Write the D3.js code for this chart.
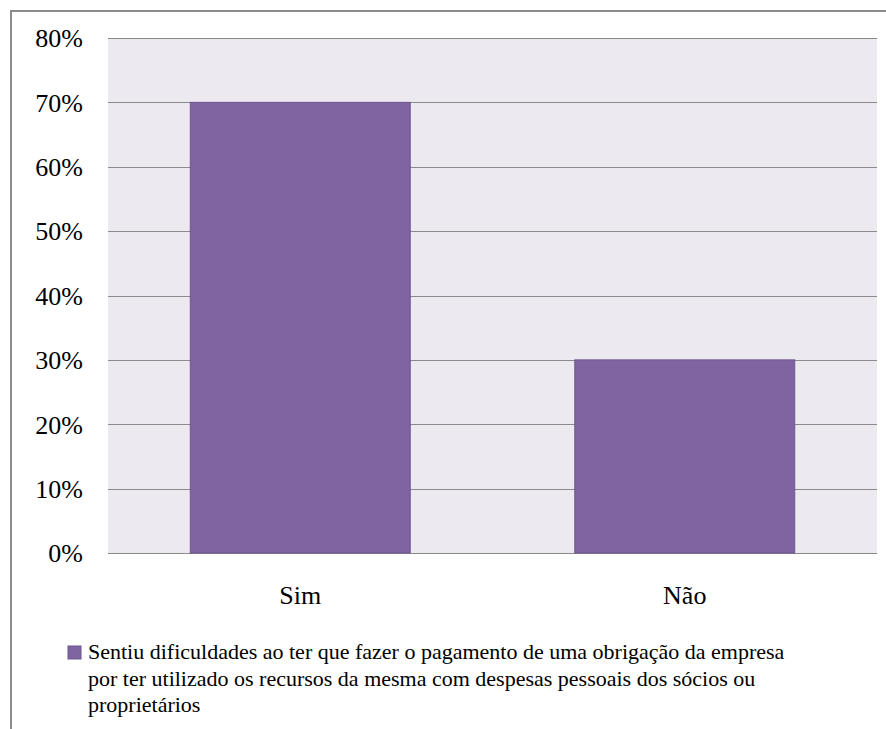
<!DOCTYPE html>
<html>
<head>
<meta charset="utf-8">
<script src="https://cdn.jsdelivr.net/npm/d3@7/dist/d3.min.js"></script>
<style>
  html, body { margin: 0; padding: 0; background: #fff; }
  svg { display: block; }
</style>
</head>
<body>
<svg id="chart" width="886" height="729"></svg>
<script>
// Responses
const categories = ["Sim", "Não"];
const values = [0.70, 0.30];
const yTicks = [0, 0.1, 0.2, 0.3, 0.4, 0.5, 0.6, 0.7, 0.8];
const legendLines = [
  "Sentiu dificuldades ao ter que fazer o pagamento de uma obrigação da empresa",
  "por ter utilizado os recursos da mesma com despesas pessoais dos sócios ou",
  "proprietários"
];

const SERIF = "'Liberation Serif', 'Times New Roman', serif";
const svg = d3.select("#chart");
const plot = { left: 108, right: 877, top: 38, bottom: 553 };

// outer frame (left and top edges visible)
svg.append("path")
  .attr("d", "M11,729 L11,11 L886,11")
  .attr("fill", "none")
  .attr("stroke", "#8c8c8c")
  .attr("stroke-width", 2);

const x = d3.scaleBand()
  .domain(categories)
  .range([plot.left, plot.right])
  .paddingInner(0.428)
  .paddingOuter(0.214);

const y = d3.scaleLinear()
  .domain([0, 0.8])
  .range([plot.bottom, plot.top]);

// plot background
svg.append("rect")
  .attr("x", plot.left).attr("y", plot.top)
  .attr("width", plot.right - plot.left)
  .attr("height", plot.bottom - plot.top)
  .attr("fill", "#ECEAF0");

// horizontal gridlines
const grid = svg.append("g")
  .attr("transform", `translate(${plot.left},0)`)
  .call(d3.axisLeft(y).tickValues(yTicks).tickSize(-(plot.right - plot.left)).tickFormat(""));
grid.select(".domain").remove();
grid.selectAll(".tick line")
  .attr("stroke", "#8a8a8a")
  .attr("stroke-width", 1)
  .attr("shape-rendering", "crispEdges");

// bars
svg.append("g").selectAll("rect")
  .data(categories.map((c, i) => ({ c, v: values[i] })))
  .join("rect")
  .attr("x", d => x(d.c))
  .attr("y", d => y(d.v))
  .attr("width", x.bandwidth())
  .attr("height", d => y(0) - y(d.v))
  .attr("fill", "#8064A2")
  .attr("stroke", "#6E5591")
  .attr("stroke-width", 1);

// y axis labels
const yAxis = svg.append("g")
  .attr("transform", `translate(83,0)`)
  .call(d3.axisLeft(y).tickValues(yTicks).tickSize(0).tickPadding(0).tickFormat(d3.format(".0%")));
yAxis.select(".domain").remove();
yAxis.selectAll("text")
  .style("font-family", SERIF, "important")
  .style("font-size", "26px", "important")
  .attr("fill", "#000")
  .attr("dy", "0.34em");

// category labels
const xAxis = svg.append("g")
  .attr("transform", `translate(0,${plot.bottom})`)
  .call(d3.axisBottom(x).tickSize(0).tickPadding(0));
xAxis.select(".domain").remove();
xAxis.selectAll("text")
  .style("font-family", SERIF, "important")
  .style("font-size", "26px", "important")
  .attr("fill", "#000")
  .attr("y", 51)
  .attr("dy", 0);

// legend
const legend = svg.append("g");
legend.append("rect")
  .attr("x", 68).attr("y", 646)
  .attr("width", 13).attr("height", 13)
  .attr("fill", "#8064A2")
  .attr("stroke", "#6E5591")
  .attr("stroke-width", 1);
legend.selectAll("text.leg")
  .data(legendLines)
  .join("text")
  .attr("class", "leg")
  .attr("x", 88)
  .attr("y", (d, i) => 659 + i * 26.5)
  .style("font-family", SERIF, "important")
  .style("font-size", "22px", "important")
  .attr("fill", "#000")
  .text(d => d);
</script>
</body>
</html>
